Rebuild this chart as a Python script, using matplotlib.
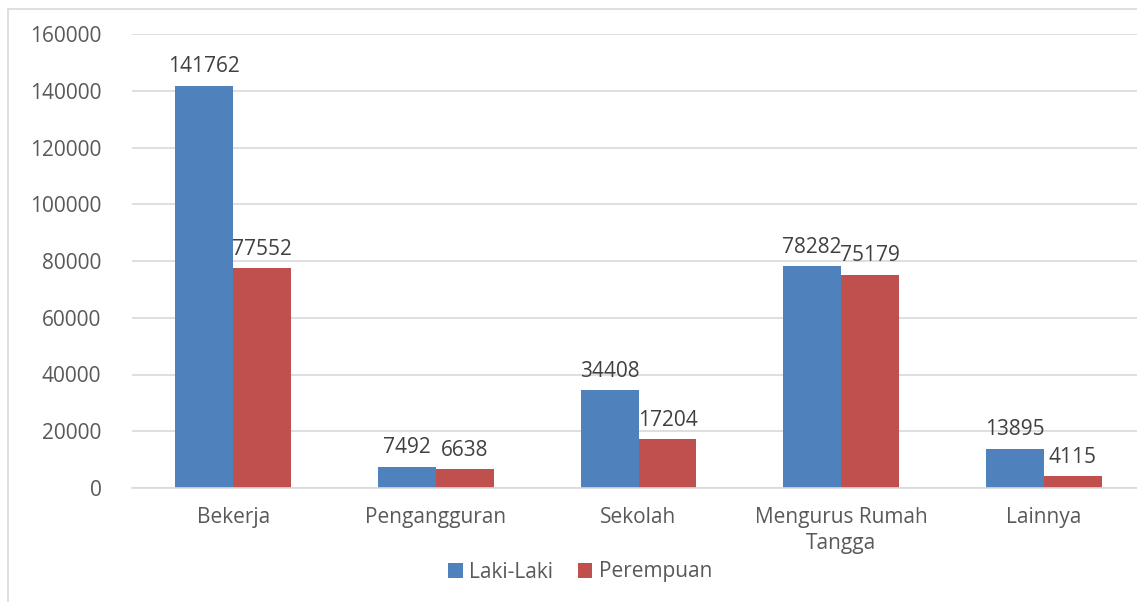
import matplotlib.pyplot as plt
import numpy as np
from matplotlib.patches import Rectangle

categories = ['Bekerja', 'Pengangguran', 'Sekolah', 'Mengurus Rumah\nTangga', 'Lainnya']
laki = [141762, 7492, 34408, 78282, 13895]
perempuan = [77552, 6638, 17204, 75179, 4115]
series_names = ['Laki-Laki', 'Perempuan']
yticks = [0, 20000, 40000, 60000, 80000, 100000, 120000, 140000, 160000]

plt.rcParams['font.family'] = ['Open Sans', 'DejaVu Sans']
text_color = '#595959'
colors = ['#4F81BD', '#C0504D']

W, H = 1137, 602
fig = plt.figure(figsize=(W / 100, H / 100), dpi=100)

# chart border (cropped on right and bottom)
fig.patches.append(Rectangle((8 / W, -0.05), 1.2, (H - 9) / H + 0.05,
                             transform=fig.transFigure, fill=False,
                             edgecolor='#d9d9d9', linewidth=1.2))

left, right = 132, 1145
bottom, top = 488, 34
ax = fig.add_axes([left / W, (H - bottom) / H, (right - left) / W, (bottom - top) / H])

x = np.arange(len(categories))
w = 0.286
b1 = ax.bar(x - w / 2, laki, w, color=colors[0], label=series_names[0], zorder=2)
b2 = ax.bar(x + w / 2, perempuan, w, color=colors[1], label=series_names[1], zorder=2)

for bars in (b1, b2):
    for rect in bars:
        v = rect.get_height()
        ax.annotate(f'{int(v)}', (rect.get_x() + rect.get_width() / 2, v),
                    xytext=(0, 6), textcoords='offset points',
                    ha='center', va='bottom', fontsize=15, color='#404040')

ax.set_xlim(-0.5, len(categories) - 0.5)
ax.set_ylim(0, 160000)
ax.set_yticks(yticks)
ax.set_yticklabels([str(t) for t in yticks])
ax.set_xticks(x)
ax.set_xticklabels(categories, linespacing=1.3)
ax.tick_params(axis='both', length=0, labelsize=15, colors=text_color)
ax.tick_params(axis='y', pad=22)
ax.tick_params(axis='x', pad=14)
ax.yaxis.grid(True, color='#d9d9d9', linewidth=1.2, zorder=0)
ax.set_axisbelow(True)
for s in ['top', 'right', 'left']:
    ax.spines[s].set_visible(False)
ax.spines['bottom'].set_color('#d9d9d9')
ax.spines['bottom'].set_linewidth(1.2)

leg = fig.legend(loc='center', bbox_to_anchor=(580 / W, (H - 572) / H), ncol=2,
                 frameon=False, fontsize=15, handlelength=0.7, handleheight=0.7,
                 handletextpad=0.3, columnspacing=1.2)
for t in leg.get_texts():
    t.set_color(text_color)

fig.savefig('out.png', dpi=100)
